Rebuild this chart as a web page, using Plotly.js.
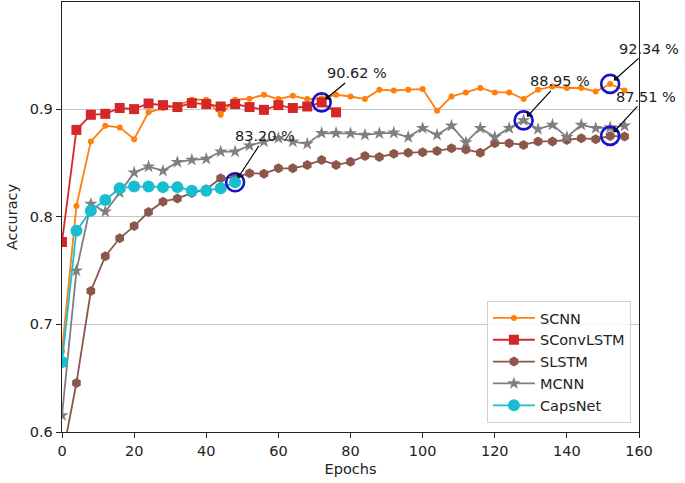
<!DOCTYPE html>
<html>
<head>
<meta charset="utf-8">
<script src="https://cdn.plot.ly/plotly-3.0.1.min.js"></script>
<style>
  body { margin: 0; background: #fff; }
  #chart { width: 685px; height: 483px; }
</style>
</head>
<body>
<div id="chart"></div>
<script>
// epochs where a value was logged (every 4th)
let epochsLong = [0, 4, 8, 12, 16, 20, 24, 28, 32, 36, 40, 44, 48, 52, 56, 60, 64, 68, 72, 76,
    80, 84, 88, 92, 96, 100, 104, 108, 112, 116, 120, 124, 128, 132, 136, 140, 144, 148, 152, 156];
let epochsConvLSTM = [0, 4, 8, 12, 16, 20, 24, 28, 32, 36, 40, 44, 48, 52, 56, 60, 64, 68, 72, 76];
let epochsCaps = [0, 4, 8, 12, 16, 20, 24, 28, 32, 36, 40, 44, 48];

let scnn = [0.675, 0.810, 0.870, 0.8845, 0.883, 0.872, 0.897, 0.901, 0.903, 0.9087,
    0.9087, 0.8947, 0.9087, 0.9096, 0.9133, 0.9093, 0.9124, 0.9093, 0.910, 0.9133,
    0.9117, 0.9093, 0.918, 0.9173, 0.918, 0.9186, 0.8984, 0.9117, 0.9155, 0.9196,
    0.9155, 0.9155, 0.9093, 0.918, 0.921, 0.9196, 0.9196, 0.9164, 0.9234, 0.9173];
let sconvlstm = [0.7765, 0.8807, 0.8947, 0.8956, 0.901, 0.900, 0.9052, 0.9037, 0.9019, 0.9056,
    0.9047, 0.9024, 0.9047, 0.9019, 0.8993, 0.9037, 0.901, 0.9024, 0.9062, 0.897];
let slstm = [0.5755, 0.6455, 0.731, 0.7634, 0.780, 0.7913, 0.8044, 0.814, 0.817, 0.822,
    0.8255, 0.8358, 0.8365, 0.8404, 0.840, 0.845, 0.845, 0.848, 0.8528, 0.848,
    0.851, 0.8565, 0.8555, 0.8584, 0.8594, 0.860, 0.861, 0.8637, 0.8625, 0.8594,
    0.8683, 0.8683, 0.8667, 0.870, 0.870, 0.8713, 0.873, 0.872, 0.8751, 0.8745];
let mcnn = [0.6154, 0.750, 0.8118, 0.8047, 0.8224, 0.841, 0.8466, 0.8426, 0.8507, 0.8528,
    0.8537, 0.8605, 0.8605, 0.8661, 0.8698, 0.873, 0.8698, 0.8677, 0.8777, 0.8777,
    0.8775, 0.876, 0.8775, 0.878, 0.874, 0.8823, 0.876, 0.8845, 0.869, 0.8823,
    0.874, 0.8823, 0.8895, 0.8814, 0.8854, 0.874, 0.8854, 0.8823, 0.883, 0.8845];
let capsnet = [0.665, 0.787, 0.8056, 0.8155, 0.8265, 0.828, 0.828, 0.8275, 0.8275, 0.8242,
    0.8242, 0.8265, 0.832];

// highlighted points: [series x, series y, index, label, text offset px]
let highlights = [
    [epochsConvLSTM, sconvlstm, 18, "90.62 %", 35, -29],
    [epochsCaps, capsnet, 12, "83.20 %", 30, -46],
    [epochsLong, mcnn, 32, "88.95 %", 36, -39],
    [epochsLong, scnn, 38, "92.34 %", 39, -35],
    [epochsLong, slstm, 38, "87.51 %", 36, -39]
];

let fontFam = '"DejaVu Sans", sans-serif';

function makeTrace(x, y, name, color, symbol, size) {
    return {
        x: x,
        y: y,
        name: name,
        type: 'scatter',
        mode: 'lines+markers',
        line: {color: color, width: 1.8},
        marker: {color: color, symbol: symbol, size: size}
    };
}

let traces = [
    makeTrace(epochsLong, scnn, 'SCNN', '#ff7f0e', 'circle', 6),
    makeTrace(epochsConvLSTM, sconvlstm, 'SConvLSTM', '#d62728', 'square', 10),
    makeTrace(epochsLong, slstm, 'SLSTM', '#8c564b', 'hexagon', 10),
    makeTrace(epochsLong, mcnn, 'MCNN', '#7f7f7f', 'star', 10),
    makeTrace(epochsCaps, capsnet, 'CapsNet', '#17becf', 'circle', 12)
];

let hx = [], hy = [], annots = [];
for(let h of highlights) {
    let px = h[0][h[2]];
    let py = h[1][h[2]];
    hx.push(px);
    hy.push(py);
    annots.push({
        x: px, y: py, xref: 'x', yref: 'y',
        text: h[3],
        showarrow: true,
        ax: h[4], ay: h[5],
        arrowhead: 4, arrowsize: 1, arrowwidth: 1.2, arrowcolor: '#000',
        standoff: 5,
        font: {family: fontFam, size: 14.5, color: '#222'}
    });
}

traces.push({
    x: hx,
    y: hy,
    type: 'scatter',
    mode: 'markers',
    showlegend: false,
    hoverinfo: 'skip',
    marker: {symbol: 'circle-open', size: 18, color: '#1414c8', line: {width: 2.6, color: '#1414c8'}}
});

let layout = {
    width: 685,
    height: 483,
    margin: {l: 62, r: 46, t: 2, b: 51},
    paper_bgcolor: '#fff',
    plot_bgcolor: '#fff',
    font: {family: fontFam, size: 14.5, color: '#222'},
    showlegend: true,
    legend: {
        x: 0.986, y: 0.021, xanchor: 'right', yanchor: 'bottom',
        itemwidth: 42,
        bgcolor: 'rgba(255,255,255,0.85)',
        bordercolor: '#d0d0d0', borderwidth: 1,
        font: {family: fontFam, size: 14.5, color: '#222'}
    },
    xaxis: {
        range: [0, 160],
        tickvals: [0, 20, 40, 60, 80, 100, 120, 140, 160],
        showgrid: false,
        zeroline: false,
        showline: true, mirror: true, linecolor: '#222', linewidth: 1.3,
        ticks: 'outside', ticklen: 5, tickcolor: '#222',
        title: {text: 'Epochs', font: {family: fontFam, size: 14.5, color: '#222'}, standoff: 6}
    },
    yaxis: {
        range: [0.6, 0.9995],
        tickvals: [0.6, 0.7, 0.8, 0.9],
        ticktext: ['0.6', '0.7', '0.8', '0.9'],
        showgrid: true, gridcolor: '#c4c4d4', gridwidth: 1,
        zeroline: false,
        showline: true, mirror: true, linecolor: '#222', linewidth: 1.3,
        ticks: 'outside', ticklen: 5, tickcolor: '#222',
        title: {text: 'Accuracy', font: {family: fontFam, size: 14.5, color: '#222'}, standoff: 8}
    },
    annotations: annots
};

Plotly.newPlot('chart', traces, layout, {displayModeBar: false, staticPlot: true});
</script>
</body>
</html>
